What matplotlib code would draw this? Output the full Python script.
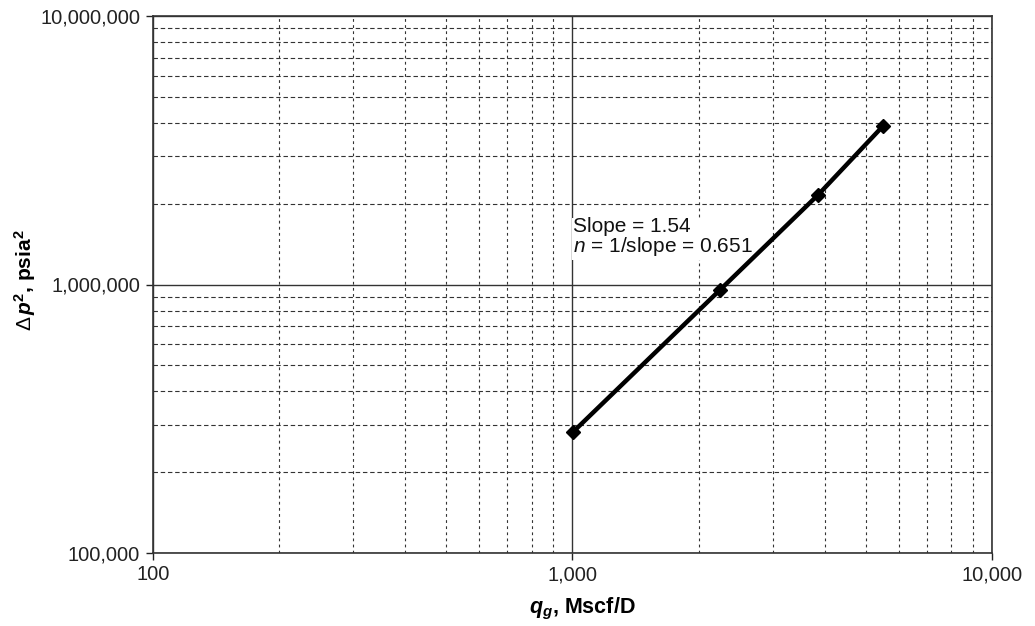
import matplotlib
matplotlib.use("Agg")
import matplotlib.pyplot as plt
from matplotlib.ticker import FixedLocator, LogLocator, NullFormatter

plt.rcParams['font.family'] = ['Liberation Sans', 'DejaVu Sans']
plt.rcParams['mathtext.fontset'] = 'custom'
plt.rcParams['mathtext.rm'] = 'Liberation Sans'
plt.rcParams['mathtext.it'] = 'Liberation Sans:italic'
plt.rcParams['mathtext.bf'] = 'Liberation Sans:bold'
plt.rcParams['mathtext.bfit'] = 'Liberation Sans:bold:italic'

# Back-pressure test data
rate_mscfd = [1003, 2247, 3848, 5497]
delta_p2 = [282000, 954000, 2154000, 3890000]

x_ticks = [100, 1000, 10000]
x_tick_labels = ["100", "1,000", "10,000"]
y_ticks = [100000, 1000000, 10000000]
y_tick_labels = ["100,000", "1,000,000", "10,000,000"]

fig = plt.figure(figsize=(10.35, 6.26), dpi=100)
ax = fig.add_axes([152.7 / 1035, 1 - 553 / 626, (992 - 152.7) / 1035, (553 - 16) / 626])
ax.set_xscale('log')
ax.set_yscale('log')
ax.set_xlim(100, 10000)
ax.set_ylim(1e5, 1e7)

ax.xaxis.set_major_locator(FixedLocator(x_ticks))
ax.set_xticklabels(x_tick_labels)
ax.yaxis.set_major_locator(FixedLocator(y_ticks))
ax.set_yticklabels(y_tick_labels)
ax.xaxis.set_minor_locator(LogLocator(base=10, subs=range(2, 10)))
ax.yaxis.set_minor_locator(LogLocator(base=10, subs=range(2, 10)))
ax.xaxis.set_minor_formatter(NullFormatter())
ax.yaxis.set_minor_formatter(NullFormatter())

ax.grid(which='major', color='#333333', linestyle='-', linewidth=1.0)
ax.grid(which='minor', axis='y', color='#333333', linestyle=(0, (4, 2.5)), linewidth=0.8)
ax.grid(which='minor', axis='x', color='#333333', linestyle=(0, (2.5, 3)), linewidth=0.8)
ax.set_axisbelow(True)

ax.tick_params(which='major', direction='out', length=5, width=1, labelsize=14.5,
               colors='#222222', pad=4)
ax.tick_params(which='minor', length=0)
for s in ax.spines.values():
    s.set_color('#333333')
    s.set_linewidth(1.2)

ax.plot(rate_mscfd, delta_p2, color='black', linewidth=3.2, marker='D',
        markersize=7, markerfacecolor='black', markeredgecolor='black', zorder=5)

ax.text(1005, 1.78e6, "Slope = 1.54\n$n$ = 1/slope = 0.651", fontsize=15,
        ha='left', va='top', color='#111111', linespacing=0.95,
        bbox=dict(facecolor='white', edgecolor='none', pad=1))

ax.set_xlabel(r"$\mathbfit{q}_{\mathbfit{g}}$, Mscf/D", fontsize=15.5, fontweight='bold')
ax.xaxis.set_label_coords(0.5115, -0.08)
ax.set_ylabel(r"$\Delta\,\mathbfit{p}^{\mathbf{2}}$, psia$^{\mathbf{2}}$", fontsize=15,
              fontweight='bold')
ax.yaxis.set_label_coords(-0.137, 0.508)

fig.savefig("out.png", dpi=100)
